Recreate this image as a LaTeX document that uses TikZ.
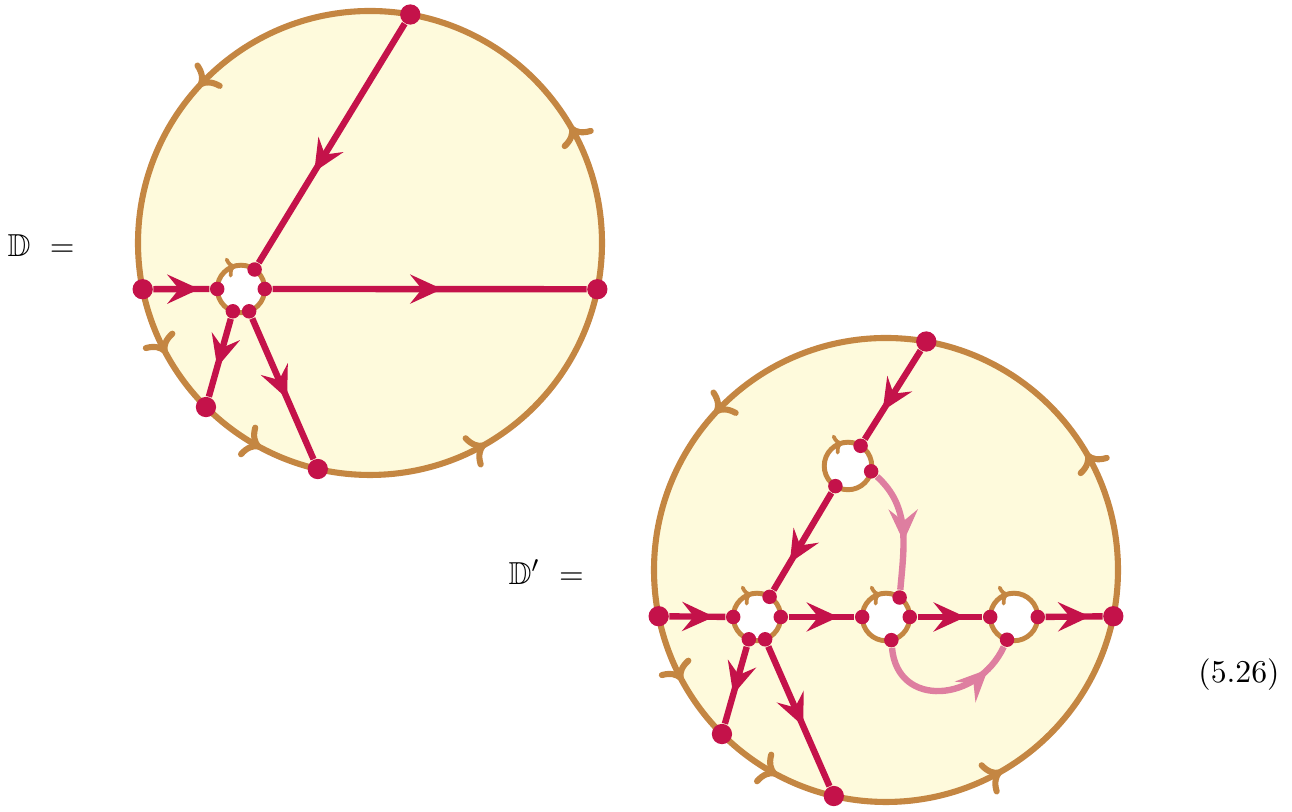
\documentclass[tikz,border=0pt,11pt]{standalone}
\usepackage{amsmath}
\usepackage{amssymb}
\usetikzlibrary{arrows.meta, decorations.markings, calc}
\definecolor{diskedge}{RGB}{196,134,66}
\definecolor{diskfill}{RGB}{254,250,220}
\definecolor{crimson}{RGB}{196,18,74}
\definecolor{rosepink}{RGB}{222,126,160}

\begin{document}
\begin{tikzpicture}[
    x=0.345pt, y=0.345pt,
    bdtip/.tip    = {Computer Modern Rightarrow[length=6pt, width=12.5pt]},
    disk/.style   = {draw=diskedge, fill=diskfill, line width=2.1pt,
                     postaction={decorate},
                     decoration={markings,
                       mark=at position 0.084 with {\arrow{bdtip}},
                       mark=at position 0.382 with {\arrow{bdtip}},
                       mark=at position 0.579 with {\arrow{bdtip}},
                       mark=at position 0.672 with {\arrow{bdtip}},
                       mark=at position 0.833 with {\arrow{bdtip}}}},
    hole/.style   = {circle, draw=diskedge, fill=white, line width=1.7pt,
                     minimum size=16.4pt, inner sep=0pt, outer sep=0pt},
    holemark/.style = {draw=diskedge, line width=1.3pt,
                     -{Computer Modern Rightarrow[length=3pt, width=7pt]}},
    bdot/.style   = {circle, fill=crimson, inner sep=0pt, minimum size=7pt},
    sdot/.style   = {circle, fill=crimson, inner sep=0pt, minimum size=5pt},
    wire/.style   = {draw=crimson, line width=2.2pt, postaction={decorate},
                     decoration={markings, mark=at position #1 with
                       {\arrow{Stealth[length=11pt, width=10pt, inset=4pt]}}}},
    wire/.default = 0.6,
    pwire/.style  = {wire=#1, draw=rosepink},
]
\useasboundingbox (0,0) rectangle (1292,812);

%% Disk D
\coordinate (cD) at (370,569);
\draw[disk] (cD) circle (232);
\node[hole] (hD) at ($(cD)+(-129,-46)$) {};
\draw[holemark] (hD.122) arc[start angle=122, end angle=104, radius=8.2pt];

\node[bdot] (tD)  at ($(cD)+(80:232)$)    {};
\node[bdot] (lD)  at ($(cD)+(191.5:232)$) {};
\node[bdot] (rD)  at ($(cD)+(348.5:232)$) {};
\node[bdot] (llD) at ($(cD)+(225:232)$)   {};
\node[bdot] (bD)  at ($(cD)+(257:232)$)   {};

\node[sdot] (hDn) at (hD.55)  {};
\node[sdot] (hDw) at (hD.180) {};
\node[sdot] (hDe) at (hD.0)   {};
\node[sdot] (hDs) at (hD.250) {};
\node[sdot] (hDt) at (hD.290) {};

\draw[wire=0.62] (tD) -- (hDn);
\draw[wire=0.82] (lD) -- (hDw);
\draw[wire=0.54] (hDe) -- (rD);
\draw[wire=0.62] (hDs) -- (llD);
\draw[wire=0.57] (hDt) -- (bD);

\node[anchor=west, inner sep=0pt] (lblD) at (7,566) {$\mathbb{D}\ =$};

%% Disk D'
\coordinate (cE) at (886,242);
\draw[disk] (cE) circle (232);
\node[hole] (hA) at ($(cE)+(-129,-47)$) {};
\node[hole] (hB) at ($(cE)+(0,-47)$)    {};
\node[hole] (hC) at ($(cE)+(128,-47)$)  {};
\node[hole] (hE) at ($(cE)+(-38,104)$)  {};
\foreach \h in {hA,hB,hC,hE}
  \draw[holemark] (\h.122) arc[start angle=122, end angle=104, radius=8.2pt];

\node[bdot] (tE)  at ($(cE)+(80:232)$)    {};
\node[bdot] (lE)  at ($(cE)+(191.5:232)$) {};
\node[bdot] (rE)  at ($(cE)+(348.5:232)$) {};
\node[bdot] (llE) at ($(cE)+(225:232)$)   {};
\node[bdot] (bE)  at ($(cE)+(257:232)$)   {};

\node[sdot] (hAn) at (hA.58)  {};
\node[sdot] (hAw) at (hA.180) {};
\node[sdot] (hAe) at (hA.0)   {};
\node[sdot] (hAs) at (hA.250) {};
\node[sdot] (hAt) at (hA.290) {};
\node[sdot] (hBw) at (hB.180) {};
\node[sdot] (hBe) at (hB.0)   {};
\node[sdot] (hBn) at (hB.55)  {};
\node[sdot] (hBs) at (hB.283) {};
\node[sdot] (hCw) at (hC.180) {};
\node[sdot] (hCe) at (hC.0)   {};
\node[sdot] (hCs) at (hC.253) {};
\node[sdot] (hEn) at (hE.58)  {};
\node[sdot] (hEe) at (hE.347) {};
\node[sdot] (hEs) at (hE.238) {};

\draw[wire=0.68] (tE) -- (hEn);
\draw[wire=0.72] (hEs) -- (hAn);
\draw[wire=0.8]  (lE) -- (hAw);
\draw[wire=0.76] (hAe) -- (hBw);
\draw[wire=0.74] (hBe) -- (hCw);
\draw[wire=0.78] (hCe) -- (rE);
\draw[wire=0.62] (hAs) -- (llE);
\draw[wire=0.57] (hAt) -- (bE);
\draw[pwire=0.6] (hEe) to[out=-42, in=85] (hBn);
\draw[pwire=0.82] (hBs) to[out=-85, in=-115, looseness=1.4] (hCs);

\node[anchor=west, inner sep=0pt] (lblE) at (508,240) {$\mathbb{D}'\ =$};
\node (eqno) at (1239,137) {(5.26)};

\end{tikzpicture}
\end{document}
